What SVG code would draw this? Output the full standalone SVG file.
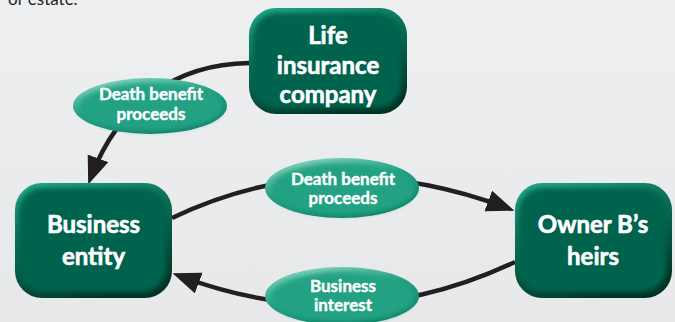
<svg xmlns="http://www.w3.org/2000/svg" width="675" height="322" viewBox="0 0 675 322">
<defs>
<linearGradient id="bg" x1="0" y1="0" x2="0" y2="1"><stop offset="0" stop-color="#eeeff0"/><stop offset="1" stop-color="#e7e8ea"/></linearGradient>
<linearGradient id="boxEdge" x1="0.2" y1="0" x2="0.6" y2="1"><stop offset="0" stop-color="#1fa385"/><stop offset="0.35" stop-color="#0a7459"/><stop offset="1" stop-color="#003326"/></linearGradient>
<linearGradient id="ellEdge" x1="0.2" y1="0" x2="0.7" y2="1"><stop offset="0" stop-color="#8fd6c2"/><stop offset="0.45" stop-color="#22a283"/><stop offset="1" stop-color="#0d7c61"/></linearGradient>
<filter id="soft" x="-10%" y="-10%" width="120%" height="120%"><feGaussianBlur stdDeviation="2.5"/></filter>
<marker id="ah" markerUnits="userSpaceOnUse" markerWidth="30" markerHeight="24" refX="20" refY="11" orient="auto" viewBox="0 0 30 24"><path d="M0,0 L28,11 L0,22 z" fill="#231f20"/></marker>
<style>
.edge{fill:url(#boxEdge)}
.core{fill:#02644d;filter:url(#soft)}
.eedge{fill:url(#ellEdge)}
.ecore{fill:#22a283;filter:url(#soft)}
.bt{font-family:Lato,"Open Sans",sans-serif;font-weight:bold;font-size:24px;fill:#ffffff;stroke:#ffffff;stroke-width:0.6;text-anchor:middle}
.et{font-family:Lato,"Open Sans",sans-serif;font-weight:bold;font-size:17px;fill:#ffffff;stroke:#ffffff;stroke-width:0.4;text-anchor:middle}
.ln{fill:none;stroke:#231f20;stroke-width:4.5}
</style>
</defs>
<rect x="0" y="0" width="675" height="322" fill="url(#bg)"/>
<text x="8" y="5" font-family="Lato,'Open Sans',sans-serif" font-size="17" fill="#231f20">or estate.</text>
<g id="connectors">
<path class="ln" d="M249 63 C175 64 118 105 91 177" marker-end="url(#ah)"/>
<path class="ln" d="M172 218 Q330 142 507 208" marker-end="url(#ah)"/>
<path class="ln" d="M515 262 Q350 340 180 276" marker-end="url(#ah)"/>
</g>
<g id="life-insurance">
<rect class="edge" x="249" y="8" width="158" height="106" rx="27"/>
<rect class="core" x="253" y="13" width="148" height="95" rx="24"/>
<text class="bt" x="328" y="44">Life</text>
<text class="bt" x="328" y="74">insurance</text>
<text class="bt" x="328" y="103">company</text>
</g>
<g id="business-entity">
<rect class="edge" x="15" y="183" width="157" height="115" rx="27"/>
<rect class="core" x="19" y="188" width="147" height="104" rx="24"/>
<text class="bt" x="93.5" y="233">Business</text>
<text class="bt" x="93.5" y="265">entity</text>
</g>
<g id="owner-heirs">
<rect class="edge" x="515" y="183" width="157" height="115" rx="27"/>
<rect class="core" x="519" y="188" width="147" height="104" rx="24"/>
<text class="bt" x="593" y="233">Owner B’s</text>
<text class="bt" x="593" y="265">heirs</text>
</g>
<g id="label-proceeds-1">
<ellipse class="eedge" cx="150" cy="106" rx="77" ry="28"/>
<ellipse class="ecore" cx="151" cy="107" rx="72" ry="24"/>
<text class="et" x="151" y="100">Death benefit</text>
<text class="et" x="151" y="120">proceeds</text>
</g>
<g id="label-proceeds-2">
<ellipse class="eedge" cx="342" cy="188" rx="77" ry="30"/>
<ellipse class="ecore" cx="343" cy="189" rx="72" ry="26"/>
<text class="et" x="343" y="185">Death benefit</text>
<text class="et" x="343" y="204">proceeds</text>
</g>
<g id="label-interest">
<ellipse class="eedge" cx="342" cy="296" rx="77" ry="29"/>
<ellipse class="ecore" cx="343" cy="297" rx="72" ry="25"/>
<text class="et" x="343" y="292">Business</text>
<text class="et" x="343" y="311">interest</text>
</g>
</svg>
